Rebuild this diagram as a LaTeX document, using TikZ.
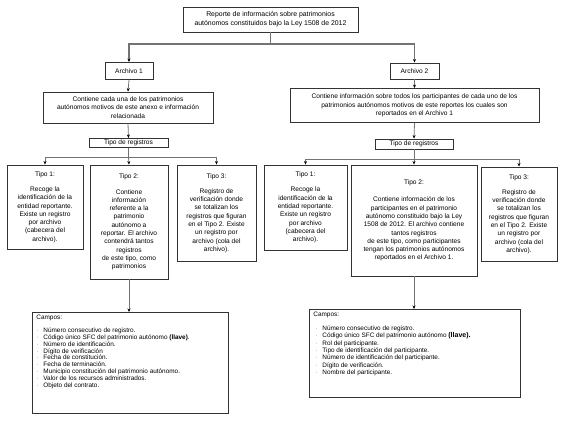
\documentclass[tikz,border=0pt]{standalone}
\usepackage{fontspec}
\setmainfont{Liberation Sans}
\usetikzlibrary{arrows.meta}
\tikzset{
  box/.style={draw=black!80, line width=0.9pt, fill=white, inner sep=1pt, align=center,
    font=\fontsize{6.6}{8.3}\selectfont},
  conn/.style={draw=black!55, line width=0.8pt},
  arr/.style={conn, -{Stealth[length=3.5pt,width=3pt,black]}},
}
\newcommand{\bul}{\makebox[7pt][l]{\textcolor{black!45}{·}}}
\begin{document}
\begin{tikzpicture}[x=1pt,y=-1pt]
\useasboundingbox (0,0) rectangle (566,426);
% top
\node[box, minimum width=175pt, minimum height=25pt, font=\fontsize{6.9}{9}\selectfont] (top) at (270.5,19.5)
  {Reporte de información sobre patrimonios\\autónomos constituidos bajo la Ley 1508 de 2012};
% archivos
\node[box, minimum width=48pt, minimum height=17pt] (a1) at (129,71) {Archivo 1};
\node[box, minimum width=49pt, minimum height=16pt] (a2) at (414.5,71) {Archivo 2};
% contiene
\node[box, minimum width=170pt, minimum height=31pt] (c1) at (128,107.5)
  {Contiene cada una de los patrimonios\\autónomos motivos de este anexo e información\\relacionada};
\node[box, minimum width=249pt, minimum height=34pt] (c2) at (414.5,105.5)
  {Contiene información sobre todos los participantes de cada uno de los\\patrimonios autónomos motivos de este reportes los cuales son\\reportados en el Archivo 1};
% tipo de registros
\node[box, minimum width=79pt, minimum height=9pt, inner sep=0pt] (r1) at (128.5,143) {Tipo de registros};
\node[box, minimum width=78pt, minimum height=10pt, inner sep=0pt] (r2) at (414,144) {Tipo de registros};
% left tipos
\node[box, minimum width=76pt, minimum height=84pt] (t1l) at (45,207)
  {Tipo 1:\\[7pt]Recoge la\\identificación de la\\entidad reportante.\\Existe un registro\\por archivo\\(cabecera del\\archivo).};
\node[box, minimum width=78pt, minimum height=114pt] (t2l) at (129,222)
  {Tipo 2:\\[7pt]Contiene\\información\\referente a la\\patrimonio\\autónomo a\\reportar. El archivo\\contendrá tantos\\registros\\de este tipo, como\\patrimonios};
\node[box, minimum width=79pt, minimum height=96pt] (t3l) at (216.5,213)
  {Tipo 3:\\[7pt]Registro de\\verificación donde\\se totalizan los\\registros que figuran\\en el Tipo 2. Existe\\un registro por\\archivo (cola del\\archivo).};
% right tipos
\node[box, minimum width=83pt, minimum height=85pt] (t1r) at (305.5,207.5)
  {Tipo 1:\\[7pt]Recoge la\\identificación de la\\entidad reportante.\\Existe un registro\\por archivo\\(cabecera del\\archivo).};
\node[box, minimum width=126pt, minimum height=111pt] (t2r) at (414,220.5)
  {Tipo 2:\\[9pt]Contiene información de los\\participantes en el patrimonio\\autónomo constituido bajo la Ley\\1508 de 2012. El archivo contiene\\tantos registros\\de este tipo, como participantes\\tengan los patrimonios autónomos\\reportados en el Archivo 1.};
\node[box, minimum width=76pt, minimum height=94pt] (t3r) at (519,214)
  {Tipo 3:\\[7pt]Registro de\\verificación donde\\se totalizan los\\registros que figuran\\en el Tipo 2. Existe\\un registro por\\archivo (cola del\\archivo).};
% campos
\node[box, anchor=north west, inner sep=0pt, align=left, font=\fontsize{6.4}{6.8}\selectfont] (f1) at (32,312)
  {\parbox[c][101pt][t]{196pt}{\vspace{3pt}\hspace*{4pt}Campos:\par\vspace{6pt}%
   \leftskip=4pt
   \bul Número consecutivo de registro.\par
   \bul Código único SFC del patrimonio autónomo \textbf{(llave)}.\par
   \bul Número de identificación.\par
   \bul Dígito de verificación\par
   \bul Fecha de constitución.\par
   \bul Fecha de terminación.\par
   \bul Municipio constitución del patrimonio autónomo.\par
   \bul Valor de los recursos administrados.\par
   \bul Objeto del contrato.\par}};
\node[box, anchor=north west, inner sep=0pt, align=left, font=\fontsize{6.4}{7.4}\selectfont] (f2) at (309,309)
  {\parbox[c][88pt][t]{211pt}{\vspace{3pt}\hspace*{4pt}Campos:\par\vspace{6pt}%
   \leftskip=6pt
   \bul Número consecutivo de registro.\par
   \bul Código único SFC del patrimonio autónomo {\fontsize{7}{7.4}\selectfont\textbf{(llave).}}\par
   \bul Rol del participante.\par
   \bul Tipo de identificación del participante.\par
   \bul Número de identificación del participante.\par
   \bul Dígito de verificación.\par
   \bul Nombre del participante.\par}};
% junction coordinates
\coordinate (j0) at (270.5,44);
\coordinate (jl) at (128.5,157);
\coordinate (jr) at (414,159);
% connectors top
\draw[conn, line width=1.1pt] (top.south) -- (j0);
\draw[arr, line width=1.1pt] (j0) -| (a1.north);
\draw[arr, line width=1.1pt] (j0) -| (a2.north);
\draw[arr] (a1.south) -- (c1.north);
\draw[arr] (a2.south) -- (c2.north);
\draw[arr] (c1.south) -- (r1.north);
\draw[arr] (c2.south) -- (r2.north);
% left branch
\draw[conn] (r1.south) -- (jl);
\draw[arr] (jl) -| (t1l.north);
\draw[arr] (jl) -- (t2l.north);
\draw[arr] (jl) -| (t3l.north);
% right branch
\draw[conn] (r2.south) -- (jr);
\draw[arr] (jr) -| (t1r.north);
\draw[arr] (jr) -- (t2r.north);
\draw[arr] (jr) -| (t3r.north);
% to campos
\draw[arr] (t2l.south) -- (t2l.south |- f1.north);
\draw[arr] (t2r.south) -- (t2r.south |- f2.north);
\end{tikzpicture}
\end{document}
